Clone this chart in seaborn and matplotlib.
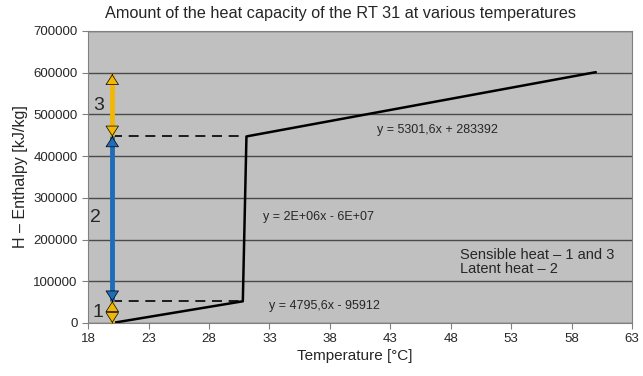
import matplotlib
matplotlib.use("Agg")
import matplotlib.pyplot as plt
import pandas as pd
import seaborn as sns

# data
temperature = [20, 30.8, 31.1, 60]
enthalpy = [0, 52000, 447000, 601000]
x_ticks = [18, 23, 28, 33, 38, 43, 48, 53, 58, 63]
y_ticks = [0, 100000, 200000, 300000, 400000, 500000, 600000, 700000]
# arrows: (bottom, top, label)
stages = [(0, 52000, "1"), (52000, 447000, "2"), (447000, 596000, "3")]
stage_colors = ["#F2B705", "#1F6DB8", "#F2B705"]

sns.set_style("white")
plt.rcParams["font.family"] = ["Liberation Sans", "DejaVu Sans"]

df = pd.DataFrame({"T": temperature, "H": enthalpy})

fig = plt.figure(figsize=(6.43, 3.76), dpi=100)
ax = fig.add_axes([0.137, 0.141, 0.846, 0.777])
ax.set_facecolor("#C0C0C0")

sns.lineplot(data=df, x="T", y="H", color="black", linewidth=1.8, ax=ax, sort=False)

# dashed guide lines
for y in [52000, 447000]:
    ax.plot([20, 31], [y, y], color="black", linestyle=(0, (6, 4)), linewidth=1.2)

# double arrows for the heat stages: coloured shaft + outlined heads
head = "-|>,head_length=0.7,head_width=0.45"
for (lo, hi, lab), col in zip(stages, stage_colors):
    ax.plot([20, 20], [lo, hi], color=col, linewidth=3.5, solid_capstyle="butt", zorder=4)
    for tip, base in [(hi, hi - 1), (lo, lo + 1)]:
        ax.annotate("", xy=(20, tip), xytext=(20, base), zorder=5,
                    arrowprops=dict(arrowstyle=head, fc=col, ec="black", lw=0.5,
                                    shrinkA=0, shrinkB=0))
ax.text(18.8, 26000, "1", fontsize=14, va="center", ha="center")
ax.text(18.6, 252000, "2", fontsize=14, va="center", ha="center")
ax.text(18.9, 522000, "3", fontsize=14, va="center", ha="center")

ax.text(41.9, 462000, "y = 5301,6x + 283392", fontsize=9, va="center")
ax.text(32.5, 254000, "y = 2E+06x - 6E+07", fontsize=9, va="center")
ax.text(33.0, 41000, "y = 4795,6x - 95912", fontsize=9, va="center")
ax.text(48.8, 120000, "Sensible heat \u2013 1 and 3\nLatent heat \u2013 2", fontsize=10.5,
        linespacing=1.0)

ax.set_xlim(18, 63)
ax.set_ylim(0, 700000)
ax.set_xticks(x_ticks)
ax.set_yticks(y_ticks)
ax.yaxis.grid(True, color="#4a4a4a", linewidth=1)
ax.set_axisbelow(True)
for s in ax.spines.values():
    s.set_color("#808080")
ax.tick_params(axis="both", labelsize=9.5, length=4, color="#808080", direction="out",
               left=True, bottom=True)

ax.set_xlabel("Temperature [\u00b0C]", fontsize=11)
ax.set_ylabel("H \u2013 Enthalpy [kJ/kg]", fontsize=11.5)
ax.xaxis.set_label_coords(0.49, -0.09)
fig.text(0.529, 0.965, "Amount of the heat capacity of the RT 31 at various temperatures",
         fontsize=11.7, ha="center", va="center")

fig.savefig("out.png", dpi=100)
